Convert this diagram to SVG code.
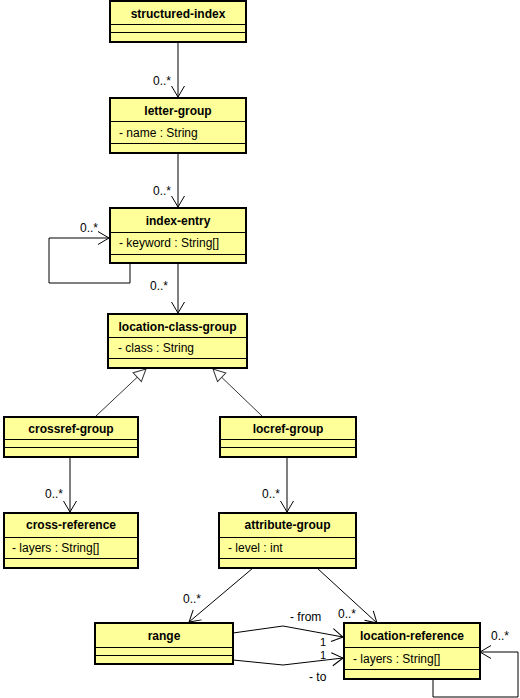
<svg xmlns="http://www.w3.org/2000/svg" width="520" height="698" viewBox="0 0 520 698">
  <style>
    .box { fill: #ffff99; stroke: #000; stroke-width: 2; }
    .sep { stroke: #000; stroke-width: 1; }
    .title { font-family: "Liberation Sans", Arial, sans-serif; font-size: 12px; font-weight: bold; text-anchor: middle; fill: #000; }
    .attr { font-family: "Liberation Sans", Arial, sans-serif; font-size: 12px; fill: #000; }
    .lbl { font-family: "Liberation Sans", Arial, sans-serif; font-size: 12px; fill: #000; }
    .mult { font-family: "Liberation Sans", Arial, sans-serif; font-size: 11px; fill: #000; }
    .assoc { fill: none; stroke: #000; stroke-width: 1; marker-end: url(#open); }
    .gen { fill: none; stroke: #333; stroke-width: 1; marker-end: url(#tri); }
  </style>
  <defs>
    <marker id="open" markerUnits="userSpaceOnUse" markerWidth="14" markerHeight="16" viewBox="-1 -8 14 16" refX="11" refY="0" orient="auto" overflow="visible">
      <path d="M0,-6.5 L11,0 L0,6.5" fill="none" stroke="#000" stroke-width="1"/>
    </marker>
    <marker id="tri" markerUnits="userSpaceOnUse" markerWidth="14" markerHeight="16" viewBox="-1 -8 14 16" refX="12" refY="0" orient="auto" overflow="visible">
      <path d="M0,-6 L12,0 L0,6 Z" fill="#fff" stroke="#333" stroke-width="1"/>
    </marker>
  </defs>

  <rect width="520" height="698" fill="#fff"/>

  <!-- connectors -->
  <g id="connectors">
    <path class="assoc" d="M178,43 V97"/>
    <path class="assoc" d="M178,154 V207"/>
    <path class="assoc" d="M178,264 V313"/>
    <path class="assoc" d="M130,264 V283 H49 V238 H109"/>
    <path class="gen" d="M96,416 L146,369"/>
    <path class="gen" d="M262,416 L213,369"/>
    <path class="assoc" d="M70,458 V512"/>
    <path class="assoc" d="M287,458 V512"/>
    <path class="assoc" d="M253,568 L189,622"/>
    <path class="assoc" d="M317,568 L377,623"/>
    <path class="assoc" d="M233,633 L283,626 L343,637"/>
    <path class="assoc" d="M233,660 L283,665 L343,658"/>
    <path class="assoc" d="M433,679 V697 H518 V652 H480"/>

    <text class="lbl" x="153" y="85">0..*</text>
    <text class="lbl" x="153" y="195">0..*</text>
    <text class="lbl" x="150" y="290">0..*</text>
    <text class="lbl" x="80" y="232">0..*</text>
    <text class="lbl" x="45" y="498">0..*</text>
    <text class="lbl" x="262" y="498">0..*</text>
    <text class="lbl" x="183" y="603">0..*</text>
    <text class="lbl" x="338" y="618">0..*</text>
    <text class="lbl" x="290" y="621">- from</text>
    <text class="mult" x="320" y="646">1</text>
    <text class="mult" x="320" y="659">1</text>
    <text class="lbl" x="309" y="681">- to</text>
    <text class="lbl" x="491" y="640">0..*</text>
  </g>

  <!-- classes -->
  <g id="structured-index">
    <rect class="box" x="110" y="1" width="136" height="41"/>
    <line class="sep" x1="110" y1="24.5" x2="246" y2="24.5"/>
    <line class="sep" x1="110" y1="32.5" x2="246" y2="32.5"/>
    <text class="title" x="178" y="17.5">structured-index</text>
  </g>

  <g id="letter-group">
    <rect class="box" x="110" y="98" width="136" height="55"/>
    <line class="sep" x1="110" y1="121.5" x2="246" y2="121.5"/>
    <line class="sep" x1="110" y1="143.5" x2="246" y2="143.5"/>
    <text class="title" x="178" y="115">letter-group</text>
    <text class="attr" x="119" y="137">- name : String</text>
  </g>

  <g id="index-entry">
    <rect class="box" x="110" y="208" width="136" height="55"/>
    <line class="sep" x1="110" y1="232.5" x2="246" y2="232.5"/>
    <line class="sep" x1="110" y1="254.5" x2="246" y2="254.5"/>
    <text class="title" x="178" y="225">index-entry</text>
    <text class="attr" x="119" y="247">- keyword : String[]</text>
  </g>

  <g id="location-class-group">
    <rect class="box" x="108" y="314" width="139" height="54"/>
    <line class="sep" x1="108" y1="337.5" x2="247" y2="337.5"/>
    <line class="sep" x1="108" y1="358.5" x2="247" y2="358.5"/>
    <text class="title" x="177.5" y="331">location-class-group</text>
    <text class="attr" x="118" y="352">- class : String</text>
  </g>

  <g id="crossref-group">
    <rect class="box" x="4" y="417" width="134" height="40"/>
    <line class="sep" x1="4" y1="439.5" x2="138" y2="439.5"/>
    <line class="sep" x1="4" y1="447.5" x2="138" y2="447.5"/>
    <text class="title" x="71" y="433">crossref-group</text>
  </g>

  <g id="locref-group">
    <rect class="box" x="220" y="417" width="136" height="40"/>
    <line class="sep" x1="220" y1="439.5" x2="356" y2="439.5"/>
    <line class="sep" x1="220" y1="447.5" x2="356" y2="447.5"/>
    <text class="title" x="288" y="433">locref-group</text>
  </g>

  <g id="cross-reference">
    <rect class="box" x="4" y="513" width="134" height="55"/>
    <line class="sep" x1="4" y1="537.5" x2="138" y2="537.5"/>
    <line class="sep" x1="4" y1="558.5" x2="138" y2="558.5"/>
    <text class="title" x="71" y="529">cross-reference</text>
    <text class="attr" x="12" y="552">- layers : String[]</text>
  </g>

  <g id="attribute-group">
    <rect class="box" x="219" y="513" width="137" height="55"/>
    <line class="sep" x1="219" y1="537.5" x2="356" y2="537.5"/>
    <line class="sep" x1="219" y1="558.5" x2="356" y2="558.5"/>
    <text class="title" x="287.5" y="529">attribute-group</text>
    <text class="attr" x="228" y="552">- level : int</text>
  </g>

  <g id="range">
    <rect class="box" x="95" y="623" width="138" height="41"/>
    <line class="sep" x1="95" y1="647.5" x2="233" y2="647.5"/>
    <line class="sep" x1="95" y1="655.5" x2="233" y2="655.5"/>
    <text class="title" x="164" y="640">range</text>
  </g>

  <g id="location-reference">
    <rect class="box" x="344" y="623" width="136" height="56"/>
    <line class="sep" x1="344" y1="647.5" x2="480" y2="647.5"/>
    <line class="sep" x1="344" y1="669.5" x2="480" y2="669.5"/>
    <text class="title" x="412" y="640">location-reference</text>
    <text class="attr" x="353" y="663">- layers : String[]</text>
  </g>
</svg>
